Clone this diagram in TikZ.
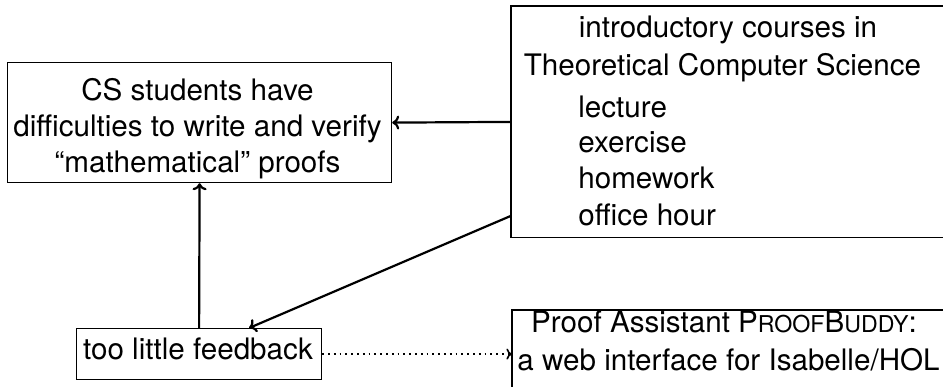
\documentclass[tikz,border=0pt]{standalone}
\usepackage{fontspec}
\setmainfont{TeX Gyre Heros}
\usetikzlibrary{calc,arrows.meta}
\newcommand{\smallcap}[1]{{\fontsize{11.6}{11.6}\selectfont #1}}
\tikzset{
  boxnode/.style={inner sep=0pt, anchor=north west},
  boxline/.style={line width=0.6pt},
  txt/.style={inner sep=0pt, anchor=base, font=\fontsize{14.8}{18}\selectfont},
  txtl/.style={inner sep=0pt, anchor=base west, font=\fontsize{14.8}{18}\selectfont},
  conn/.style={line width=1.1pt, -{To[length=3.5pt,width=7pt]}},
  dotconn/.style={line width=0.9pt, dash pattern=on 0.9pt off 2pt, -{To[length=2.8pt,width=5.5pt,line width=0.8pt]}}
}
\begin{document}
\begin{tikzpicture}[x=0.5pt,y=-0.5pt]
\useasboundingbox (0,0) rectangle (943,386);
\clip (0,0) rectangle (943,386);
% boxes
\node[boxnode, draw, line width=0.6pt, minimum width=192pt, minimum height=60pt] (A) at (7,62) {};
\node[boxnode, minimum width=218pt, minimum height=115.5pt] (B) at (511,6) {};
\node[boxnode, draw, line width=0.6pt, minimum width=122.5pt, minimum height=25.5pt] (C) at (76,328) {};
\node[boxnode, minimum width=218pt, minimum height=42pt] (D) at (512,310) {};
\draw[boxline] (B.north east) -- (B.north west) -- (B.south west) -- (B.south east);
\draw[boxline] (D.north east) -- (D.north west) -- (D.south west);
% texts of A
\node[txt] (a1) at (197.5,100) {CS students have};
\node[txt] (a2) at (197.5,136) {difficulties to write and verify};
\node[txt] (a3) at (197.5,172) {``mathematical'' proofs};
% texts of B
\node[txt] (b1) at (728,37) {introductory courses in};
\node[txt] (b2) at (722.5,75) {Theoretical Computer Science};
\node[txtl] (b3) at (578,117) {lecture};
\node[txtl] (b4) at (578,152) {exercise};
\node[txtl] (b5) at (578,188) {homework};
\node[txtl] (b6) at (578,225) {office hour};
% text of C
\node[txt] (c1) at (198,359) {too little feedback};
% texts of D
\node[txt] (d1) at (724,332) {Proof Assistant P\smallcap{ROOF}B\smallcap{UDDY}:};
\node[txt] (d2) at (728.5,370) {a web interface for Isabelle/HOL};
% connectors
\draw[conn] (B.west) -- (A.east);
\draw[conn] (C.north) -- (A.south);
\draw[conn] ($(B.south west)+(0,-22)$) -- ($(C.north)+(50,0)$);
\draw[dotconn] (C.east) -- (C.east -| D.west);
\end{tikzpicture}
\end{document}
